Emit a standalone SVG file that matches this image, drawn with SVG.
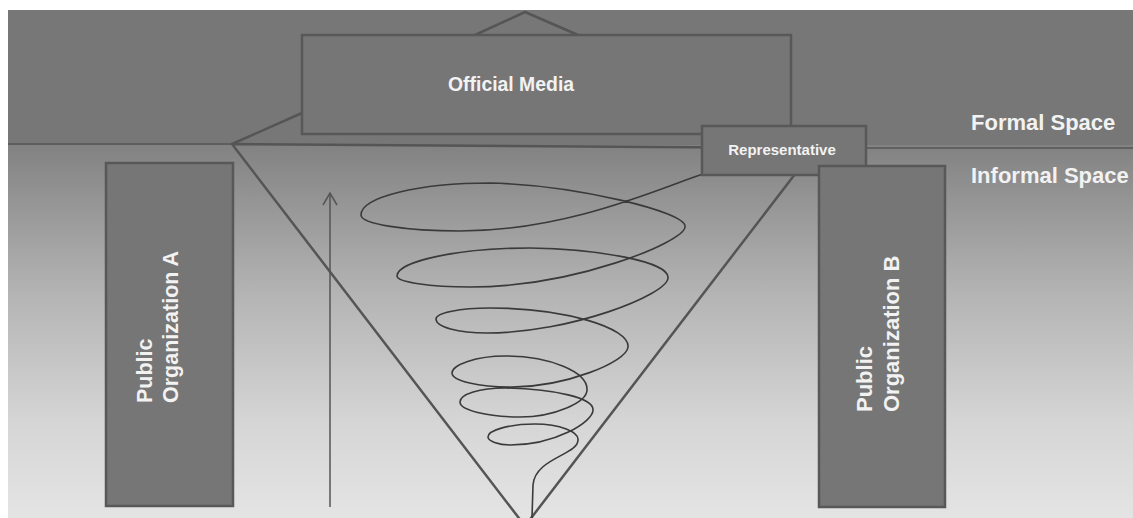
<svg xmlns="http://www.w3.org/2000/svg" width="1133" height="518" viewBox="0 0 1133 518">
  <defs>
    <linearGradient id="lowerBg" gradientUnits="userSpaceOnUse" x1="0" y1="145" x2="0" y2="518">
      <stop offset="0" stop-color="#828282"/>
      <stop offset="0.4" stop-color="#b4b4b4"/>
      <stop offset="0.75" stop-color="#d6d6d6"/>
      <stop offset="1" stop-color="#e4e4e4"/>
    </linearGradient>
    <style>
      .box { fill: #767676; stroke: #585858; stroke-width: 2.5; }
      .edge { fill: none; stroke: #555555; stroke-width: 2.5; stroke-linejoin: round; }
      .thin { fill: none; stroke: #555555; stroke-width: 1.5; }
      .spiral { fill: none; stroke: #3a3a3a; stroke-width: 1.6; stroke-linecap: round; }
      .lbl { fill: #f2f2f2; font-family: "Liberation Sans", Arial, sans-serif; font-weight: bold; }
    </style>
  </defs>

  <!-- background -->
  <rect x="0" y="0" width="1133" height="518" fill="#ffffff"/>
  <rect x="8" y="10" width="1125" height="136" fill="#777777"/>
  <rect x="8" y="145" width="1125" height="373" fill="url(#lowerBg)"/>

  <!-- space divider lines -->
  <g id="dividers">
    <line class="thin" x1="8" y1="144" x2="232" y2="144"/>
    <line class="thin" x1="866" y1="148" x2="1133" y2="148"/>
  </g>

  <!-- connectors -->
  <g id="connectors">
    <polyline class="edge" points="475,35 525,12 578,35"/>
    <line class="edge" x1="232" y1="144" x2="302" y2="113"/>
    <polygon class="edge" points="232,144 815,148 525,526"/>
    <line class="thin" x1="330" y1="507" x2="330" y2="194"/>
    <polyline class="thin" points="323,205 330,193 337,205"/>
    <path class="spiral" d="M703,174 C665,186 570,231 460,231 C406,231 361,224 361,215 C361,197 419,183 490,183 C575,185 688,212 685,227 C684,242 575,287 470,287 C430,287 397,282 397,276 C397,261 460,248 530,248 C600,249 670,262 668,278 C667,295 570,333 487,333 C458,333 436,327 436,319 C436,313 460,308 490,308 C565,308 630,328 628,347 C627,362 565,387 512,387 C479,387 452,381 452,373 C452,365 476,356 505,356 C550,356 588,372 587,390 C587,402 555,417 520,417 C487,417 460,410 460,402 C460,394 480,388 505,388 C555,389 594,398 593,410 C593,422 555,445 510,445 C498,445 488,441 488,437 C488,430 510,424 535,424 C560,424 579,432 578,440 C578,455 535,458 533,485 L532,518"/>
  </g>

  <!-- Official Media -->
  <g id="official-media">
    <rect class="box" x="302" y="35" width="489" height="99"/>
    <text class="lbl" x="448" y="91" font-size="19.4">Official Media</text>
  </g>

  <!-- Representative -->
  <g id="representative">
    <rect class="box" x="702" y="126" width="164" height="49"/>
    <text class="lbl" x="782" y="154.5" font-size="15" text-anchor="middle">Representative</text>
  </g>

  <!-- Public Organization A -->
  <g id="public-org-a">
    <rect class="box" x="106" y="163" width="127" height="343"/>
    <text class="lbl" font-size="21.5" transform="translate(152,403) rotate(-90)">Public</text>
    <text class="lbl" font-size="21.5" transform="translate(178,403) rotate(-90)">Organization A</text>
  </g>

  <!-- Public Organization B -->
  <g id="public-org-b">
    <rect class="box" x="819" y="166" width="126" height="341"/>
    <text class="lbl" font-size="22" transform="translate(872,412) rotate(-90)">Public</text>
    <text class="lbl" font-size="22" transform="translate(899,412) rotate(-90)">Organization B</text>
  </g>

  <!-- space labels -->
  <g id="space-labels">
    <text class="lbl" x="971" y="130" font-size="22">Formal Space</text>
    <text class="lbl" x="971" y="183" font-size="22">Informal Space</text>
  </g>
</svg>
